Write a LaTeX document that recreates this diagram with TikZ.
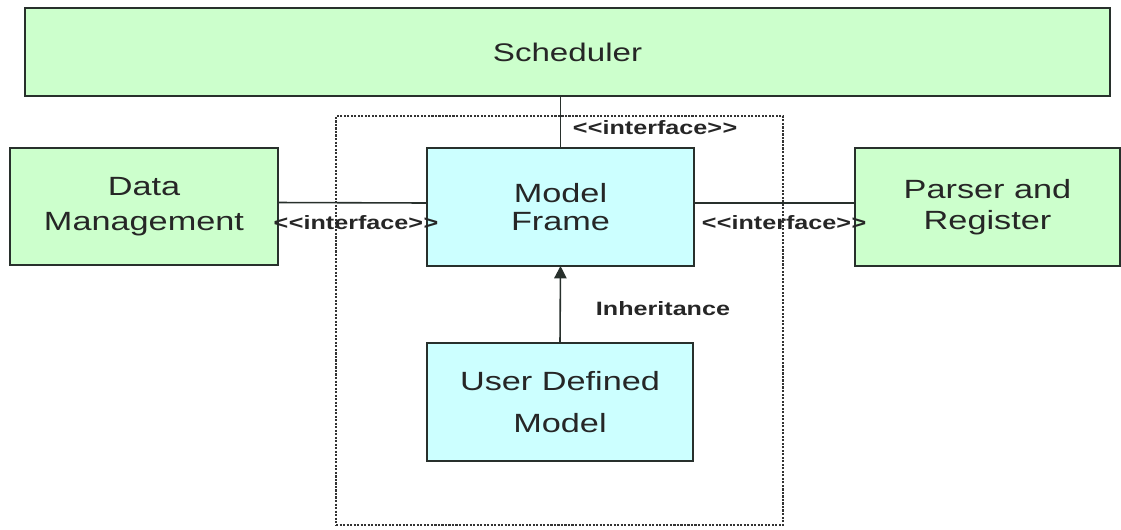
\documentclass[tikz,border=0pt]{standalone}
\usepackage{fontspec}
\setmainfont{Liberation Sans}[FakeStretch=1.3]
\usepackage{tikz}
\usetikzlibrary{arrows.meta, calc}
\definecolor{mygreen}{RGB}{204,255,204}
\definecolor{mycyan}{RGB}{204,255,255}
\definecolor{myline}{RGB}{40,48,44}
\newcommand{\ifacetext}{\textless\kern0.3pt\textless interface\textgreater\kern0.3pt\textgreater}
\tikzstyle{greenbox} = [draw=myline, outer sep=0, inner sep=3, line width=1.5,
    fill=mygreen, text=black!85, font=\fontsize{15}{18}\selectfont, align=center]
\tikzstyle{cyanbox} = [draw=myline, outer sep=0, inner sep=3, line width=1.5,
    fill=mycyan, text=black!85, font=\fontsize{15}{18}\selectfont, align=center]
\tikzstyle{pkgbox} = [draw=black!80, line width=1.4, dash pattern=on 1.2pt off 0.8pt,
    outer sep=0, minimum width=8.94cm, minimum height=8.18cm]
\tikzstyle{small} = [font=\bfseries\fontsize{11}{12}\selectfont, text=black!85, inner sep=1]

\begin{document}
\begin{tikzpicture}
\useasboundingbox (0,0) rectangle (22.42,-10.58);

%%% package frame
\node[pkgbox] (pkg) at (11.19,-6.41) {};

%%% boxes
\node[greenbox, minimum width=21.7cm, minimum height=1.76cm, font=\fontsize{14.5}{18}\selectfont] (sch) at (11.35,-1.04) {Scheduler};
\node[greenbox, minimum width=5.36cm, minimum height=2.34cm] (dm) at (2.88,-4.13) {Data\\[2pt] Management};
\node[cyanbox, minimum width=5.34cm, minimum height=2.36cm] (mf) at (11.21,-4.14) {Model\\[-2pt] Frame};
\node[greenbox, minimum width=5.30cm, minimum height=2.36cm] (pr) at (19.75,-4.14) {Parser and\\ Register};
\node[cyanbox, minimum width=5.32cm, minimum height=2.36cm] (udm) at (11.2,-8.04) {User Defined\\[6pt] Model};

%%% connectors
\draw[line width=0.9, draw=myline] (mf.north) -- (mf.north |- sch.south);
\draw[line width=0.9, draw=myline] ($(dm.east)+(0,0.08)$) -- ($(mf.west)+(0,0.08)$);
\draw[line width=0.9, draw=myline] ($(mf.east)+(0,0.08)$) -- ($(pr.west)+(0,0.08)$);
\draw[-{Triangle[length=7pt,width=7pt]}, line width=0.9, draw=myline] (udm.north) -- (mf.south);

%%% labels
\node[small] (lbtop) at (13.1,-2.56) {\ifacetext};
\node[small] (lbleft) at (7.12,-4.46) {\ifacetext};
\node[small] (lbright) at (15.68,-4.46) {\ifacetext};
\node[small] (lbinh) at (13.26,-6.18) {Inheritance};

\end{tikzpicture}
\end{document}
